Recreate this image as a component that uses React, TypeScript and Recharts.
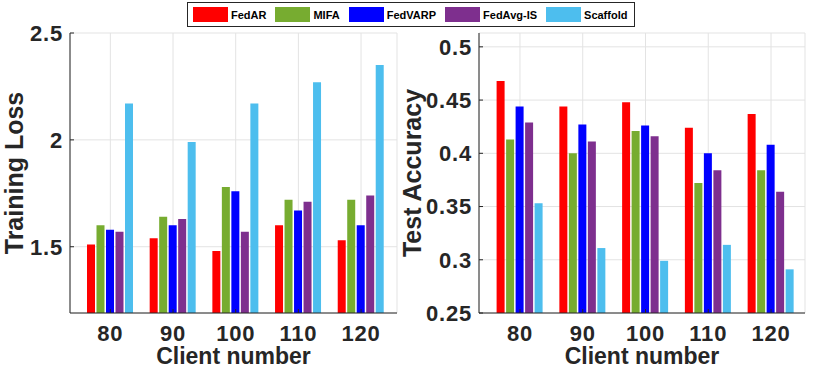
import { BarChart, Bar, XAxis, YAxis, CartesianGrid } from "recharts";

const clients = ["80", "90", "100", "110", "120"];

const seriesNames = ["FedAR", "MIFA", "FedVARP", "FedAvg-IS", "Scaffold"];
const seriesColors = ["#ff0000", "#77ac30", "#0000ff", "#7e2f8e", "#4dbeee"];

// Training loss per client number
const lossFedAR = [1.51, 1.54, 1.48, 1.6, 1.53];
const lossMIFA = [1.6, 1.64, 1.78, 1.72, 1.72];
const lossFedVARP = [1.58, 1.6, 1.76, 1.67, 1.6];
const lossFedAvgIS = [1.57, 1.63, 1.57, 1.71, 1.74];
const lossScaffold = [2.17, 1.99, 2.17, 2.27, 2.35];

// Test accuracy per client number
const accFedAR = [0.468, 0.444, 0.448, 0.424, 0.437];
const accMIFA = [0.413, 0.4, 0.421, 0.372, 0.384];
const accFedVARP = [0.444, 0.427, 0.426, 0.4, 0.408];
const accFedAvgIS = [0.429, 0.411, 0.416, 0.384, 0.364];
const accScaffold = [0.353, 0.311, 0.299, 0.314, 0.291];

const lossTicks = [1.5, 2, 2.5];
const accTicks = [0.25, 0.3, 0.35, 0.4, 0.45, 0.5];

const build = (cols: number[][]) =>
  clients.map((n, i) => {
    const row: Record<string, string | number> = { n };
    seriesNames.forEach((s, k) => (row[s] = cols[k][i]));
    return row;
  });

const lossData = build([lossFedAR, lossMIFA, lossFedVARP, lossFedAvgIS, lossScaffold]);
const accData = build([accFedAR, accMIFA, accFedVARP, accFedAvgIS, accScaffold]);

const FONT = "'Liberation Sans', Arial, Helvetica, sans-serif";
const INK = "#262626";

interface PanelProps {
  data: Record<string, string | number>[];
  domain: [number, number];
  ticks: number[];
  yLabel: string;
  left: number;
  width: number;
  yWidth: number;
  right: number;
  pad: { left: number; right: number };
  labelOffset: number;
}

function Panel({ data, domain, ticks, yLabel, left, width, yWidth, right, pad, labelOffset }: PanelProps) {
  const tickStyle = { fontSize: 22, fontWeight: "bold", fill: INK, fontFamily: FONT, letterSpacing: 0.8 };
  const labelStyle = { fontWeight: "bold", fill: INK, fontFamily: FONT, textAnchor: "middle" as const };
  return (
    <BarChart
      width={width}
      height={368}
      data={data}
      margin={{ top: 33, right, bottom: 0, left: 0 }}
      barSize={8}
      barGap={1.5}
      style={{ position: "absolute", left, top: 0 }}
    >
      <CartesianGrid stroke="#e3e3e3" />
      <XAxis
        dataKey="n"
        height={55}
        padding={pad}
        axisLine={{ stroke: INK }}
        tickLine={{ stroke: INK }}
        tickSize={-4}
        tickMargin={16}
        tick={tickStyle}
        label={{ value: "Client number", position: "insideBottom", offset: 4, style: { ...labelStyle, fontSize: 23 } }}
      />
      <XAxis
        xAxisId="top"
        dataKey="n"
        orientation="top"
        height={0}
        padding={pad}
        axisLine={{ stroke: INK }}
        tickLine={{ stroke: INK }}
        tickSize={-4}
        tick={false}
      />
      <YAxis
        width={yWidth}
        domain={domain}
        ticks={ticks}
        allowDataOverflow
        axisLine={{ stroke: INK }}
        tickLine={{ stroke: INK }}
        tickSize={-4}
        tickMargin={11}
        tick={tickStyle}
        label={{ value: yLabel, angle: -90, position: "insideLeft", offset: labelOffset, style: { ...labelStyle, fontSize: 25 } }}
      />
      <YAxis
        yAxisId="r"
        orientation="right"
        width={0}
        domain={domain}
        ticks={ticks}
        allowDataOverflow
        axisLine={{ stroke: INK }}
        tickLine={{ stroke: INK }}
        tickSize={-4}
        tick={false}
      />
      {seriesNames.map((s, k) => (
        <Bar key={s} dataKey={s} fill={seriesColors[k]} isAnimationActive={false} />
      ))}
    </BarChart>
  );
}

function LegendBox() {
  return (
    <div
      style={{
        position: "absolute",
        left: 187,
        top: 2,
        width: 448,
        height: 25,
        boxSizing: "border-box",
        border: `1px solid ${INK}`,
        background: "#fff",
        display: "flex",
        alignItems: "center",
        paddingLeft: 5,
        fontFamily: FONT,
        fontWeight: "bold",
        fontSize: 11,
        color: "#000",
        whiteSpace: "nowrap",
      }}
    >
      {seriesNames.map((s, k) => (
        <div
          key={s}
          style={{ display: "flex", alignItems: "center", flexShrink: 0, marginRight: k < seriesNames.length - 1 ? 9 : 0 }}
        >
          <span style={{ width: 35, height: 15, background: seriesColors[k], display: "inline-block", marginRight: 3 }} />
          <span>{s}</span>
        </div>
      ))}
    </div>
  );
}

export default function App() {
  return (
    <div style={{ position: "relative", width: 830, height: 368, background: "#fff", overflow: "hidden" }}>
      <style>{`body{margin:0}`}</style>
      <Panel
        data={lossData}
        domain={[1.19, 2.5]}
        ticks={lossTicks}
        yLabel="Training Loss"
        left={0}
        width={415}
        yWidth={70}
        right={18}
        pad={{ left: 9, right: 4.6 }}
        labelOffset={14}
      />
      <Panel
        data={accData}
        domain={[0.25, 0.513]}
        ticks={accTicks}
        yLabel="Test Accuracy"
        left={395}
        width={435}
        yWidth={84}
        right={25}
        pad={{ left: 9.6, right: 2.6 }}
        labelOffset={17}
      />
      <LegendBox />
    </div>
  );
}
